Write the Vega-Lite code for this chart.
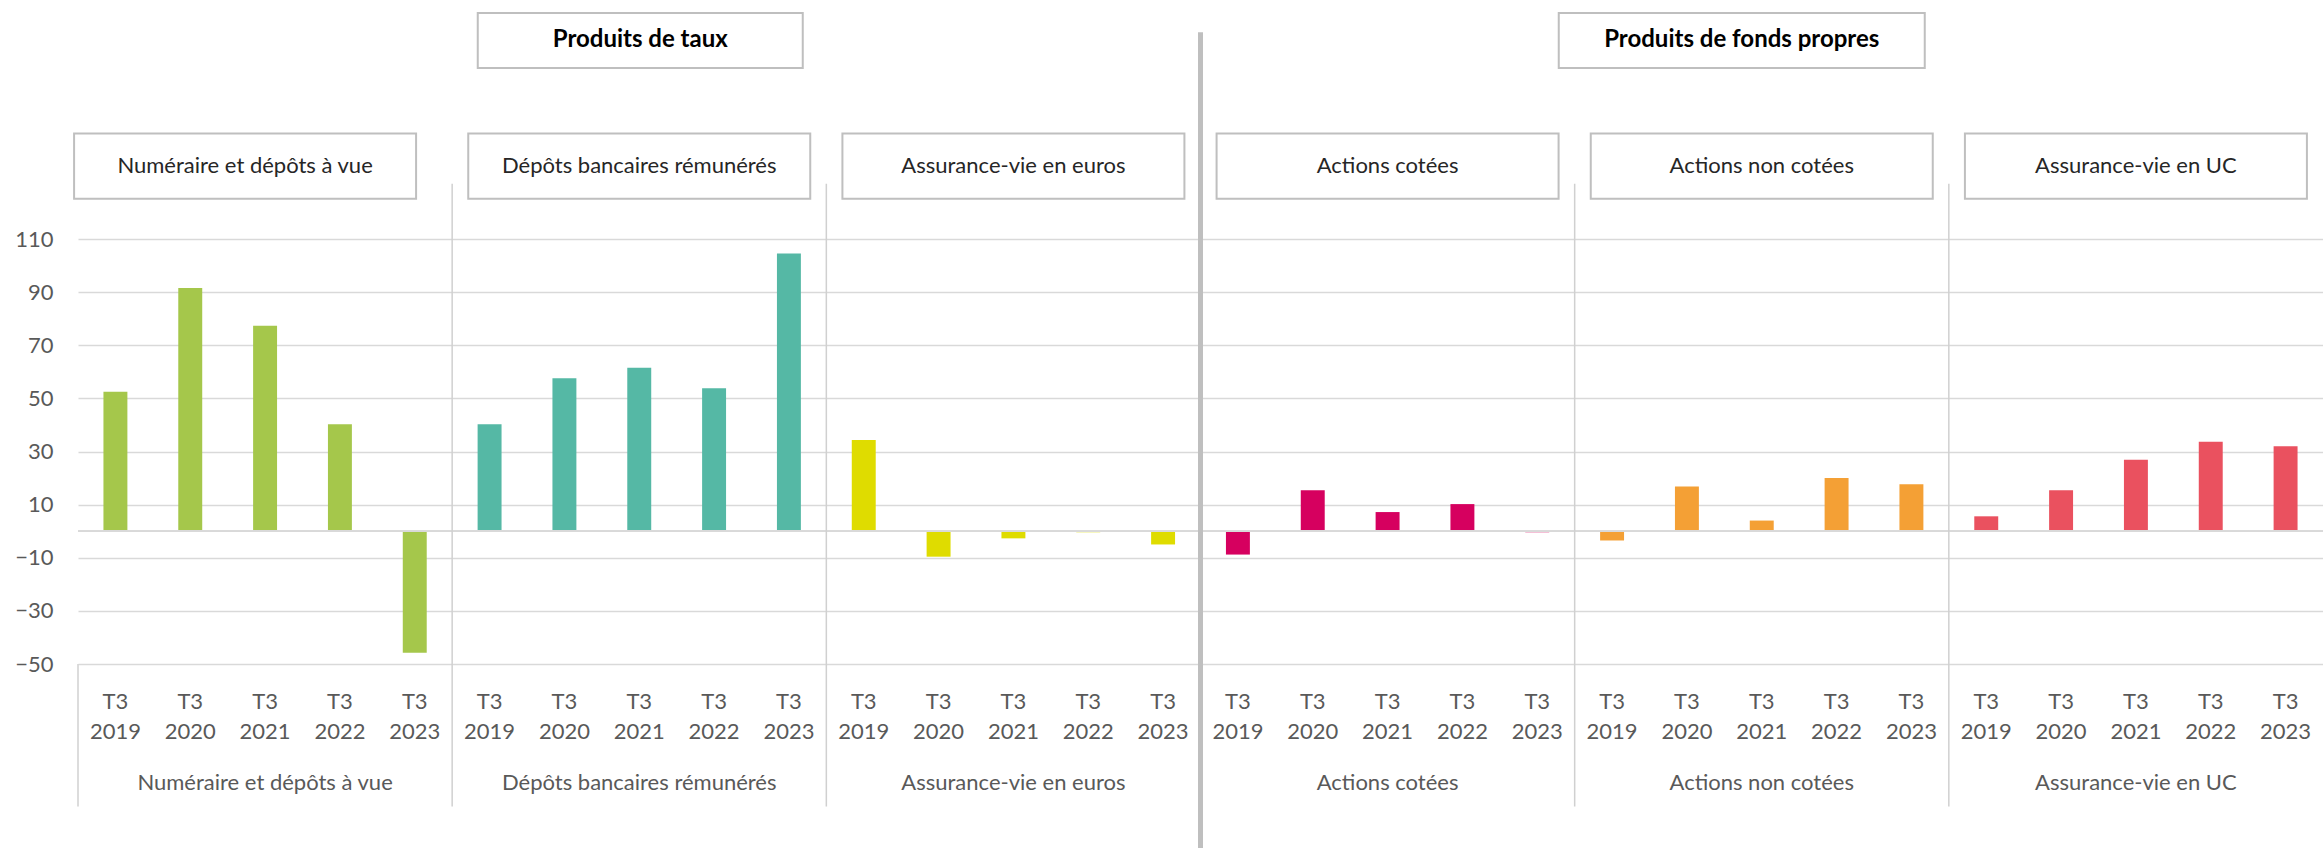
{
  "$schema": "https://vega.github.io/schema/vega-lite/v6.json",
  "autosize": {"type": "none"},
  "padding": {"left": 78, "top": 239, "right": 0, "bottom": 184},
  "width": 2245,
  "height": 425,
  "background": "white",
  "config": {"font": "Lato", "view": {"stroke": null}},
  "data": {"values": [
    {"categorie": "Produits de taux", "groupe": "Numéraire et dépôts à vue", "periode": "T3 2019", "cle": "Numéraire et dépôts à vue T3 2019", "valeur": 52.5},
    {"categorie": "Produits de taux", "groupe": "Numéraire et dépôts à vue", "periode": "T3 2020", "cle": "Numéraire et dépôts à vue T3 2020", "valeur": 91.6},
    {"categorie": "Produits de taux", "groupe": "Numéraire et dépôts à vue", "periode": "T3 2021", "cle": "Numéraire et dépôts à vue T3 2021", "valeur": 77.3},
    {"categorie": "Produits de taux", "groupe": "Numéraire et dépôts à vue", "periode": "T3 2022", "cle": "Numéraire et dépôts à vue T3 2022", "valeur": 40.3},
    {"categorie": "Produits de taux", "groupe": "Numéraire et dépôts à vue", "periode": "T3 2023", "cle": "Numéraire et dépôts à vue T3 2023", "valeur": -45.8},
    {"categorie": "Produits de taux", "groupe": "Dépôts bancaires rémunérés", "periode": "T3 2019", "cle": "Dépôts bancaires rémunérés T3 2019", "valeur": 40.3},
    {"categorie": "Produits de taux", "groupe": "Dépôts bancaires rémunérés", "periode": "T3 2020", "cle": "Dépôts bancaires rémunérés T3 2020", "valeur": 57.6},
    {"categorie": "Produits de taux", "groupe": "Dépôts bancaires rémunérés", "periode": "T3 2021", "cle": "Dépôts bancaires rémunérés T3 2021", "valeur": 61.5},
    {"categorie": "Produits de taux", "groupe": "Dépôts bancaires rémunérés", "periode": "T3 2022", "cle": "Dépôts bancaires rémunérés T3 2022", "valeur": 53.8},
    {"categorie": "Produits de taux", "groupe": "Dépôts bancaires rémunérés", "periode": "T3 2023", "cle": "Dépôts bancaires rémunérés T3 2023", "valeur": 104.5},
    {"categorie": "Produits de taux", "groupe": "Assurance-vie en euros", "periode": "T3 2019", "cle": "Assurance-vie en euros T3 2019", "valeur": 34.3},
    {"categorie": "Produits de taux", "groupe": "Assurance-vie en euros", "periode": "T3 2020", "cle": "Assurance-vie en euros T3 2020", "valeur": -9.6},
    {"categorie": "Produits de taux", "groupe": "Assurance-vie en euros", "periode": "T3 2021", "cle": "Assurance-vie en euros T3 2021", "valeur": -2.7},
    {"categorie": "Produits de taux", "groupe": "Assurance-vie en euros", "periode": "T3 2022", "cle": "Assurance-vie en euros T3 2022", "valeur": -0.4},
    {"categorie": "Produits de taux", "groupe": "Assurance-vie en euros", "periode": "T3 2023", "cle": "Assurance-vie en euros T3 2023", "valeur": -5.0},
    {"categorie": "Produits de fonds propres", "groupe": "Actions cotées", "periode": "T3 2019", "cle": "Actions cotées T3 2019", "valeur": -8.8},
    {"categorie": "Produits de fonds propres", "groupe": "Actions cotées", "periode": "T3 2020", "cle": "Actions cotées T3 2020", "valeur": 15.4},
    {"categorie": "Produits de fonds propres", "groupe": "Actions cotées", "periode": "T3 2021", "cle": "Actions cotées T3 2021", "valeur": 7.2},
    {"categorie": "Produits de fonds propres", "groupe": "Actions cotées", "periode": "T3 2022", "cle": "Actions cotées T3 2022", "valeur": 10.2},
    {"categorie": "Produits de fonds propres", "groupe": "Actions cotées", "periode": "T3 2023", "cle": "Actions cotées T3 2023", "valeur": -0.4},
    {"categorie": "Produits de fonds propres", "groupe": "Actions non cotées", "periode": "T3 2019", "cle": "Actions non cotées T3 2019", "valeur": -3.5},
    {"categorie": "Produits de fonds propres", "groupe": "Actions non cotées", "periode": "T3 2020", "cle": "Actions non cotées T3 2020", "valeur": 16.8},
    {"categorie": "Produits de fonds propres", "groupe": "Actions non cotées", "periode": "T3 2021", "cle": "Actions non cotées T3 2021", "valeur": 4.0},
    {"categorie": "Produits de fonds propres", "groupe": "Actions non cotées", "periode": "T3 2022", "cle": "Actions non cotées T3 2022", "valeur": 20.0},
    {"categorie": "Produits de fonds propres", "groupe": "Actions non cotées", "periode": "T3 2023", "cle": "Actions non cotées T3 2023", "valeur": 17.7},
    {"categorie": "Produits de fonds propres", "groupe": "Assurance-vie en UC", "periode": "T3 2019", "cle": "Assurance-vie en UC T3 2019", "valeur": 5.6},
    {"categorie": "Produits de fonds propres", "groupe": "Assurance-vie en UC", "periode": "T3 2020", "cle": "Assurance-vie en UC T3 2020", "valeur": 15.4},
    {"categorie": "Produits de fonds propres", "groupe": "Assurance-vie en UC", "periode": "T3 2021", "cle": "Assurance-vie en UC T3 2021", "valeur": 26.9},
    {"categorie": "Produits de fonds propres", "groupe": "Assurance-vie en UC", "periode": "T3 2022", "cle": "Assurance-vie en UC T3 2022", "valeur": 33.7},
    {"categorie": "Produits de fonds propres", "groupe": "Assurance-vie en UC", "periode": "T3 2023", "cle": "Assurance-vie en UC T3 2023", "valeur": 32.0}
  ]},
  "layer": [
    {
      "mark": {"type": "bar", "width": {"band": 0.32}},
      "encoding": {
        "x": {"field": "cle", "type": "nominal", "sort": null, "axis": null,
              "scale": {"type": "band", "paddingInner": 0, "paddingOuter": 0}},
        "y": {"field": "valeur", "type": "quantitative",
              "scale": {"domain": [-50, 110], "nice": false, "zero": false},
              "axis": {"values": [-50, -30, -10, 10, 30, 50, 70, 90, 110], "title": null,
                       "grid": true, "gridColor": "#D9D9D9", "gridWidth": 1.5,
                       "domain": false, "ticks": false, "labelPadding": 25,
                       "labelFontSize": 22, "labelColor": "#595959", "labelFont": "Lato",
                       "zindex": 0}},
        "color": {"field": "groupe", "type": "nominal", "legend": null,
                  "scale": {"domain": ["Numéraire et dépôts à vue", "Dépôts bancaires rémunérés", "Assurance-vie en euros", "Actions cotées", "Actions non cotées", "Assurance-vie en UC"],
                            "range": ["#A5C74B", "#55B8A5", "#DFDC00", "#D6005F", "#F4A035", "#EA515F"]}}
      }
    },
    {
      "mark": {"type": "rule", "color": "#D9D9D9", "strokeWidth": 1.5},
      "encoding": {"y": {"datum": 0}}
    },
    {
      "transform": [{"filter": "datum.periode == 'T3 2019' && datum.groupe != 'Numéraire et dépôts à vue' && datum.groupe != 'Actions cotées'"}],
      "mark": {"type": "rule", "color": "#D0D0D0", "strokeWidth": 1.5},
      "encoding": {
        "x": {"field": "cle", "type": "nominal", "sort": null, "bandPosition": 0},
        "y": {"datum": 130.8},
        "y2": {"datum": -103.6}
      }
    },
    {
      "transform": [{"filter": "datum.periode == 'T3 2019' && datum.groupe == 'Numéraire et dépôts à vue'"}],
      "mark": {"type": "rule", "color": "#D0D0D0", "strokeWidth": 1.5},
      "encoding": {
        "x": {"field": "cle", "type": "nominal", "sort": null, "bandPosition": 0},
        "y": {"datum": -50},
        "y2": {"datum": -103.6}
      }
    },
    {
      "transform": [{"filter": "datum.periode == 'T3 2019' && datum.groupe == 'Actions cotées'"}],
      "mark": {"type": "rule", "color": "#BFBFBF", "strokeWidth": 5},
      "encoding": {
        "x": {"field": "cle", "type": "nominal", "sort": null, "bandPosition": 0},
        "y": {"datum": 187.8},
        "y2": {"datum": -119.5}
      }
    },
    {
      "mark": {"type": "text", "lineBreak": " ", "lineHeight": 30, "fontSize": 22, "color": "#595959", "baseline": "middle", "align": "center"},
      "encoding": {
        "x": {"field": "cle", "type": "nominal", "sort": null},
        "y": {"datum": -64.2},
        "text": {"field": "periode"}
      }
    },
    {
      "transform": [{"filter": "datum.periode == 'T3 2021'"}],
      "mark": {"type": "text", "fontSize": 22, "color": "#595959", "baseline": "middle", "align": "center"},
      "encoding": {
        "x": {"field": "cle", "type": "nominal", "sort": null},
        "y": {"datum": -94.8},
        "text": {"field": "groupe"}
      }
    },
    {
      "transform": [{"filter": "datum.periode == 'T3 2021' && datum.groupe != 'Numéraire et dépôts à vue'"}],
      "mark": {"type": "bar", "width": 342, "fill": "white", "stroke": "#BFBFBF", "strokeWidth": 2},
      "encoding": {
        "x": {"field": "cle", "type": "nominal", "sort": null},
        "y": {"datum": 149.7},
        "y2": {"datum": 125.2}
      }
    },
    {
      "transform": [{"filter": "datum.periode == 'T3 2021' && datum.groupe == 'Numéraire et dépôts à vue'"}],
      "mark": {"type": "bar", "width": 342, "xOffset": -20, "fill": "white", "stroke": "#BFBFBF", "strokeWidth": 2},
      "encoding": {
        "x": {"field": "cle", "type": "nominal", "sort": null},
        "y": {"datum": 149.7},
        "y2": {"datum": 125.2}
      }
    },
    {
      "transform": [{"filter": "datum.periode == 'T3 2021' && datum.groupe != 'Numéraire et dépôts à vue'"}],
      "mark": {"type": "text", "fontSize": 22, "color": "#262626", "baseline": "middle", "align": "center"},
      "encoding": {
        "x": {"field": "cle", "type": "nominal", "sort": null},
        "y": {"datum": 137.5},
        "text": {"field": "groupe"}
      }
    },
    {
      "transform": [{"filter": "datum.periode == 'T3 2021' && datum.groupe == 'Numéraire et dépôts à vue'"}],
      "mark": {"type": "text", "fontSize": 22, "color": "#262626", "baseline": "middle", "align": "center", "xOffset": -20},
      "encoding": {
        "x": {"field": "cle", "type": "nominal", "sort": null},
        "y": {"datum": 137.5},
        "text": {"field": "groupe"}
      }
    },
    {
      "transform": [{"filter": "datum.periode == 'T3 2021' && datum.groupe == 'Dépôts bancaires rémunérés'"}],
      "mark": {"type": "bar", "width": 325, "xOffset": 1, "fill": "white", "stroke": "#BFBFBF", "strokeWidth": 2},
      "encoding": {
        "x": {"field": "cle", "type": "nominal", "sort": null},
        "y": {"datum": 195.1},
        "y2": {"datum": 174.4}
      }
    },
    {
      "transform": [{"filter": "datum.periode == 'T3 2021' && datum.groupe == 'Actions non cotées'"}],
      "mark": {"type": "bar", "width": 366, "xOffset": -20, "fill": "white", "stroke": "#BFBFBF", "strokeWidth": 2},
      "encoding": {
        "x": {"field": "cle", "type": "nominal", "sort": null},
        "y": {"datum": 195.1},
        "y2": {"datum": 174.4}
      }
    },
    {
      "transform": [{"filter": "datum.periode == 'T3 2021' && datum.groupe == 'Dépôts bancaires rémunérés'"}],
      "mark": {"type": "text", "fontSize": 24, "fontWeight": "bold", "color": "#000000", "baseline": "middle", "align": "center", "xOffset": 1},
      "encoding": {
        "x": {"field": "cle", "type": "nominal", "sort": null},
        "y": {"datum": 184.8},
        "text": {"field": "categorie"}
      }
    },
    {
      "transform": [{"filter": "datum.periode == 'T3 2021' && datum.groupe == 'Actions non cotées'"}],
      "mark": {"type": "text", "fontSize": 24, "fontWeight": "bold", "color": "#000000", "baseline": "middle", "align": "center", "xOffset": -20},
      "encoding": {
        "x": {"field": "cle", "type": "nominal", "sort": null},
        "y": {"datum": 184.8},
        "text": {"field": "categorie"}
      }
    }
  ]
}
